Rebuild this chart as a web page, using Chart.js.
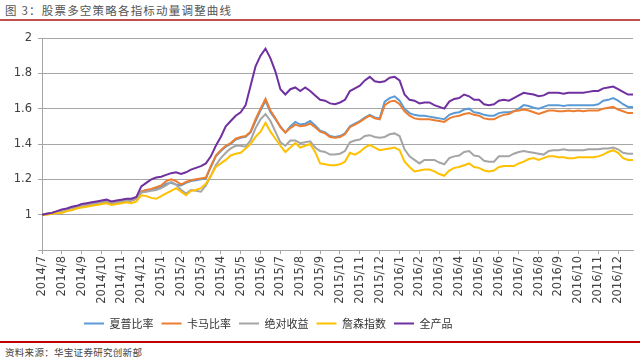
<!DOCTYPE html>
<html lang="zh">
<head>
  <meta charset="UTF-8">
  <title>股票多空策略各指标动量调整曲线</title>
  <script src="https://cdn.jsdelivr.net/npm/chart.js"></script>
  <style>
    body { margin: 0; width: 640px; height: 360px; background: #fff; position: relative; overflow: hidden;
           font-family: "Noto Sans CJK SC", sans-serif; }
    #title { position: absolute; left: 5px; top: 2px; font-size: 11.5px; color: #555; letter-spacing: 1.2px; }
    #topLine { position: absolute; left: 0; top: 19px; width: 640px; height: 2px; background: #c0504d; }
    #box { position: absolute; left: 0; top: 22px; }
    #botLine { position: absolute; left: 0; top: 341px; width: 640px; height: 2px; background: #c00000; }
    #source { position: absolute; left: 5px; top: 345px; font-size: 9.5px; color: #444; letter-spacing: 0.3px; }
  </style>
</head>
<body>
  <div id="title">图 3：股票多空策略各指标动量调整曲线</div>
  <div id="topLine"></div>
  <div id="botLine"></div>
  <div id="box"><canvas id="chart" width="640" height="317"></canvas></div>
  <div id="source">资料来源：华宝证券研究创新部</div>

  <script>
    // 月份标签（2014/7 - 2016/12）
    const months = ["2014/7","2014/8","2014/9","2014/10","2014/11","2014/12",
      "2015/1","2015/2","2015/3","2015/4","2015/5","2015/6","2015/7","2015/8","2015/9","2015/10","2015/11","2015/12",
      "2016/1","2016/2","2016/3","2016/4","2016/5","2016/6","2016/7","2016/8","2016/9","2016/10","2016/11","2016/12"];

    // 每周一个点（每月约4个）
    const sharpe = [1.00,1.005,1.01,1.015,1.02,1.03,1.04,1.045,1.05,1.055,1.06,1.065,1.07,1.075,1.065,1.07,
      1.075,1.08,1.08,1.09,1.13,1.14,1.14,1.15,1.155,1.175,1.18,1.17,1.165,1.18,1.19,1.195,
      1.20,1.205,1.27,1.33,1.36,1.385,1.40,1.425,1.435,1.44,1.465,1.53,1.59,1.645,1.58,1.54,
      1.50,1.465,1.50,1.525,1.51,1.515,1.53,1.505,1.475,1.465,1.445,1.44,1.445,1.46,1.50,1.515,
      1.53,1.55,1.565,1.55,1.545,1.64,1.66,1.67,1.645,1.60,1.575,1.565,1.56,1.56,1.555,1.55,
      1.545,1.54,1.565,1.575,1.58,1.595,1.60,1.58,1.575,1.565,1.56,1.56,1.575,1.58,1.58,1.585,
      1.60,1.62,1.615,1.605,1.60,1.61,1.62,1.62,1.62,1.615,1.62,1.62,1.62,1.62,1.62,1.62,
      1.625,1.645,1.65,1.66,1.645,1.625,1.61,1.61];
    const calmar = [1.00,1.005,1.01,1.015,1.02,1.03,1.04,1.045,1.05,1.055,1.06,1.065,1.07,1.075,1.065,1.07,
      1.075,1.08,1.08,1.09,1.13,1.14,1.145,1.155,1.165,1.19,1.20,1.19,1.17,1.185,1.195,1.20,
      1.205,1.21,1.275,1.335,1.365,1.39,1.405,1.43,1.44,1.445,1.47,1.54,1.60,1.655,1.59,1.545,
      1.495,1.465,1.49,1.51,1.50,1.505,1.515,1.495,1.47,1.46,1.44,1.435,1.44,1.455,1.495,1.51,
      1.525,1.545,1.56,1.545,1.54,1.62,1.64,1.645,1.625,1.585,1.56,1.545,1.54,1.54,1.54,1.535,
      1.53,1.525,1.545,1.555,1.56,1.57,1.575,1.565,1.56,1.545,1.54,1.54,1.555,1.565,1.57,1.585,
      1.59,1.595,1.59,1.58,1.57,1.58,1.59,1.59,1.585,1.585,1.59,1.585,1.59,1.585,1.59,1.59,
      1.59,1.60,1.605,1.61,1.595,1.585,1.575,1.575];
    const absReturn = [1.00,1.005,1.01,1.015,1.02,1.03,1.035,1.04,1.05,1.055,1.06,1.065,1.07,1.075,1.065,1.07,
      1.075,1.08,1.08,1.09,1.125,1.13,1.135,1.14,1.15,1.165,1.185,1.17,1.14,1.12,1.14,1.135,
      1.13,1.165,1.22,1.28,1.32,1.35,1.375,1.39,1.39,1.385,1.42,1.49,1.54,1.57,1.53,1.47,
      1.41,1.39,1.42,1.42,1.405,1.41,1.415,1.38,1.36,1.355,1.34,1.34,1.345,1.36,1.41,1.42,
      1.425,1.445,1.45,1.44,1.435,1.44,1.455,1.46,1.445,1.37,1.33,1.31,1.29,1.31,1.31,1.31,
      1.295,1.285,1.32,1.33,1.335,1.355,1.36,1.335,1.33,1.305,1.30,1.30,1.33,1.33,1.33,1.345,
      1.355,1.36,1.355,1.35,1.345,1.34,1.36,1.365,1.365,1.37,1.365,1.365,1.365,1.365,1.37,1.37,
      1.37,1.375,1.375,1.38,1.37,1.35,1.345,1.345];
    const jensen = [1.00,1.00,1.005,1.01,1.01,1.02,1.025,1.035,1.04,1.045,1.05,1.055,1.06,1.065,1.055,1.06,
      1.065,1.07,1.065,1.075,1.11,1.105,1.095,1.09,1.105,1.12,1.135,1.15,1.13,1.11,1.135,1.14,
      1.15,1.175,1.22,1.27,1.29,1.31,1.335,1.345,1.35,1.375,1.40,1.44,1.47,1.52,1.47,1.43,
      1.39,1.355,1.38,1.405,1.38,1.39,1.40,1.355,1.29,1.285,1.28,1.28,1.285,1.30,1.35,1.34,
      1.355,1.38,1.395,1.38,1.365,1.37,1.375,1.38,1.365,1.30,1.27,1.245,1.25,1.255,1.255,1.245,
      1.23,1.22,1.25,1.265,1.27,1.28,1.29,1.27,1.265,1.25,1.245,1.25,1.27,1.275,1.275,1.275,
      1.29,1.30,1.315,1.32,1.31,1.32,1.33,1.33,1.325,1.325,1.32,1.32,1.325,1.325,1.325,1.325,
      1.33,1.34,1.355,1.365,1.35,1.32,1.31,1.31];
    const allProducts = [1.00,1.005,1.01,1.02,1.03,1.035,1.045,1.05,1.06,1.065,1.07,1.075,1.08,1.085,1.075,1.08,
      1.085,1.09,1.09,1.10,1.16,1.18,1.20,1.21,1.215,1.225,1.235,1.24,1.23,1.24,1.255,1.265,
      1.275,1.29,1.33,1.39,1.44,1.50,1.53,1.56,1.58,1.62,1.73,1.84,1.90,1.94,1.885,1.81,
      1.71,1.68,1.71,1.72,1.70,1.72,1.70,1.675,1.65,1.645,1.63,1.625,1.635,1.65,1.70,1.715,
      1.73,1.76,1.78,1.755,1.75,1.755,1.775,1.78,1.76,1.68,1.65,1.645,1.63,1.635,1.635,1.62,
      1.61,1.60,1.64,1.655,1.66,1.68,1.67,1.65,1.65,1.625,1.62,1.625,1.645,1.65,1.645,1.66,
      1.675,1.69,1.685,1.68,1.67,1.675,1.69,1.69,1.69,1.685,1.69,1.69,1.69,1.69,1.695,1.70,
      1.70,1.715,1.72,1.725,1.71,1.695,1.68,1.68];

    const weeksPerMonth = 4;
    const pts = arr => arr.map((v, i) => ({ x: i / weeksPerMonth, y: v }));
    const lastX = (sharpe.length - 1) / weeksPerMonth;

    const FONT = '"DejaVu Sans", "Noto Sans CJK SC", sans-serif';

    function line(label, values, color, order) {
      return {
        label: label,
        data: pts(values),
        borderColor: color,
        backgroundColor: color,
        borderWidth: 2,
        pointRadius: 0,
        tension: 0,
        order: order
      };
    }

    // 把图例挪到和原图一样的位置
    const legendShift = {
      id: "legendShift",
      afterUpdate(chart) {
        chart.legend.left = 76;
      }
    };

    new Chart(document.getElementById("chart"), {
      type: "line",
      data: {
        datasets: [
          line("夏普比率", sharpe, "#5b9bd5", 5),
          line("卡马比率", calmar, "#ed7d31", 4),
          line("绝对收益", absReturn, "#a5a5a5", 3),
          line("詹森指数", jensen, "#ffc000", 2),
          line("全产品", allProducts, "#7030a0", 1)
        ]
      },
      options: {
        responsive: false,
        animation: false,
        devicePixelRatio: 1,
        layout: { padding: { top: 16, right: 7, left: 0, bottom: 0 } },
        plugins: {
          tooltip: { enabled: false },
          legend: {
            position: "bottom",
            align: "start",
            labels: {
              sort: (a, b) => a.datasetIndex - b.datasetIndex,
              usePointStyle: true,
              pointStyle: "line",
              pointStyleWidth: 20,
              padding: 8,
              color: "#333",
              font: { family: '"Noto Sans CJK SC", sans-serif', size: 11 }
            }
          }
        },
        scales: {
          x: {
            type: "linear",
            min: 0,
            max: lastX,
            afterFit: s => { s.height = 60; },
            border: { color: "#a6a6a6" },
            grid: { drawOnChartArea: false, tickLength: 4, color: "#a6a6a6" },
            ticks: {
              stepSize: 1,
              includeBounds: false,
              autoSkip: false,
              minRotation: 90,
              maxRotation: 90,
              padding: 2,
              color: "#404040",
              font: { family: FONT, size: 11.5 },
              callback: v => Number.isInteger(v) && months[v] ? months[v] : ""
            }
          },
          y: {
            min: 0.8,
            max: 2,
            afterFit: s => { s.width = 42; },
            border: { color: "#a6a6a6" },
            grid: { color: "#a6a6a6", tickLength: 4 },
            ticks: {
              stepSize: 0.2,
              padding: 6,
              color: "#404040",
              font: { family: FONT, size: 11.5 },
              callback: v => v < 0.9 ? "" : String(Math.round(v * 10) / 10)
            }
          }
        }
      },
      plugins: [legendShift]
    });
  </script>
</body>
</html>
